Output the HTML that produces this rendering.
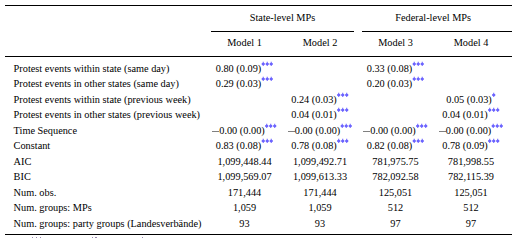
<!DOCTYPE html>
<html><head><meta charset="utf-8">
<style>
html,body{margin:0;padding:0;background:#fff;}
#pg{position:relative;width:529px;height:238px;overflow:hidden;background:#fff;
 font-family:"Liberation Serif",serif;font-size:10.3px;color:#000;}
.r{position:absolute;height:1px;background:#000;}
.t{position:absolute;white-space:nowrap;line-height:12px;height:12px;}
.l{left:13.6px;}
.c{width:100px;text-align:center;}
.c1{left:194.5px;}
.c2{left:270px;}
.c3{left:345.5px;}
.c4{left:421px;}
.fm{position:absolute;top:237px;width:1.5px;height:1px;background:#9a88b0}
.mn{display:inline-block;width:7px;height:1px;margin-bottom:2px;background:#808080;vertical-align:baseline}
.s{display:inline-block;height:5px;vertical-align:top;margin-top:-1px}
</style></head><body><div id="pg">
<div class="r" style="left:5px;top:5px;width:507px"></div>
<div class="r" style="left:211px;top:31px;width:143px"></div>
<div class="r" style="left:362px;top:31px;width:150px"></div>
<div class="r" style="left:5px;top:56px;width:507px"></div>
<div class="r" style="left:5px;top:234px;width:507px"></div>

<div class="t c" style="left:232.5px;top:12px">State-level MPs</div>
<div class="t c" style="left:383.2px;top:12px">Federal-level MPs</div>

<div class="t c c1" style="top:37px">Model 1</div>
<div class="t c c2" style="top:37px">Model 2</div>
<div class="t c c3" style="top:37px">Model 3</div>
<div class="t c c4" style="top:37px">Model 4</div>

<div class="t l" style="top:63px">Protest events within state (same day)</div>
<div class="t c c1" style="top:63px">0.80 (0.09)<span class="s" style="width:12px"></span></div>
<div class="t c c3" style="top:63px">0.33 (0.08)<span class="s" style="width:12px"></span></div>

<div class="t l" style="top:78px">Protest events in other states (same day)</div>
<div class="t c c1" style="top:78px">0.29 (0.03)<span class="s" style="width:12px"></span></div>
<div class="t c c3" style="top:78px">0.20 (0.03)<span class="s" style="width:12px"></span></div>

<div class="t l" style="top:94px">Protest events within state (previous week)</div>
<div class="t c c2" style="top:94px">0.24 (0.03)<span class="s" style="width:12px"></span></div>
<div class="t c c4" style="top:94px">0.05 (0.03)<span class="s" style="width:4px"></span></div>

<div class="t l" style="top:109px">Protest events in other states (previous week)</div>
<div class="t c c2" style="top:109px">0.04 (0.01)<span class="s" style="width:12px"></span></div>
<div class="t c c4" style="top:109px">0.04 (0.01)<span class="s" style="width:12px"></span></div>

<div class="t l" style="top:125px">Time Sequence</div>
<div class="t c c1" style="top:125px"><span class="mn"></span>0.00 (0.00)<span class="s" style="width:12px"></span></div>
<div class="t c c2" style="top:125px"><span class="mn"></span>0.00 (0.00)<span class="s" style="width:12px"></span></div>
<div class="t c c3" style="top:125px"><span class="mn"></span>0.00 (0.00)<span class="s" style="width:12px"></span></div>
<div class="t c c4" style="top:125px"><span class="mn"></span>0.00 (0.00)<span class="s" style="width:12px"></span></div>

<div class="t l" style="top:140px">Constant</div>
<div class="t c c1" style="top:140px">0.83 (0.08)<span class="s" style="width:12px"></span></div>
<div class="t c c2" style="top:140px">0.78 (0.08)<span class="s" style="width:12px"></span></div>
<div class="t c c3" style="top:140px">0.82 (0.08)<span class="s" style="width:12px"></span></div>
<div class="t c c4" style="top:140px">0.78 (0.09)<span class="s" style="width:12px"></span></div>

<div class="t l" style="top:156px">AIC</div>
<div class="t c c1" style="top:156px">1,099,448.44</div>
<div class="t c c2" style="top:156px">1,099,492.71</div>
<div class="t c c3" style="top:156px">781,975.75</div>
<div class="t c c4" style="top:156px">781,998.55</div>

<div class="t l" style="top:171px">BIC</div>
<div class="t c c1" style="top:171px">1,099,569.07</div>
<div class="t c c2" style="top:171px">1,099,613.33</div>
<div class="t c c3" style="top:171px">782,092.58</div>
<div class="t c c4" style="top:171px">782,115.39</div>

<div class="t l" style="top:187px">Num. obs.</div>
<div class="t c c1" style="top:187px">171,444</div>
<div class="t c c2" style="top:187px">171,444</div>
<div class="t c c3" style="top:187px">125,051</div>
<div class="t c c4" style="top:187px">125,051</div>

<div class="t l" style="top:202px">Num. groups: MPs</div>
<div class="t c c1" style="top:202px">1,059</div>
<div class="t c c2" style="top:202px">1,059</div>
<div class="t c c3" style="top:202px">512</div>
<div class="t c c4" style="top:202px">512</div>

<div class="t l" style="top:218px">Num. groups: party groups (Landesverbände)</div>
<div class="t c c1" style="top:218px">93</div>
<div class="t c c2" style="top:218px">93</div>
<div class="t c c3" style="top:218px">97</div>
<div class="t c c4" style="top:218px">97</div>

<div class="fm" style="left:31.5px"></div><div class="fm" style="left:35.5px"></div><div class="fm" style="left:39.6px"></div><div class="fm" style="left:91.5px"></div><div class="fm" style="left:95.3px"></div><div class="fm" style="left:141.8px"></div>
<svg id="ov" width="529" height="238" style="position:absolute;left:0;top:0" viewBox="0 0 529 238"><path fill="#6c64ff" d="M262.68 61.80h1.10v1.10h0.95v2.00h-0.95v1.10h-1.10v-1.10h-0.95v-2.00h0.95zM266.68 61.80h1.10v1.10h0.95v2.00h-0.95v1.10h-1.10v-1.10h-0.95v-2.00h0.95zM270.68 61.80h1.10v1.10h0.95v2.00h-0.95v1.10h-1.10v-1.10h-0.95v-2.00h0.95zM413.68 61.80h1.10v1.10h0.95v2.00h-0.95v1.10h-1.10v-1.10h-0.95v-2.00h0.95zM417.68 61.80h1.10v1.10h0.95v2.00h-0.95v1.10h-1.10v-1.10h-0.95v-2.00h0.95zM421.68 61.80h1.10v1.10h0.95v2.00h-0.95v1.10h-1.10v-1.10h-0.95v-2.00h0.95zM262.68 76.80h1.10v1.10h0.95v2.00h-0.95v1.10h-1.10v-1.10h-0.95v-2.00h0.95zM266.68 76.80h1.10v1.10h0.95v2.00h-0.95v1.10h-1.10v-1.10h-0.95v-2.00h0.95zM270.68 76.80h1.10v1.10h0.95v2.00h-0.95v1.10h-1.10v-1.10h-0.95v-2.00h0.95zM413.68 76.80h1.10v1.10h0.95v2.00h-0.95v1.10h-1.10v-1.10h-0.95v-2.00h0.95zM417.68 76.80h1.10v1.10h0.95v2.00h-0.95v1.10h-1.10v-1.10h-0.95v-2.00h0.95zM421.68 76.80h1.10v1.10h0.95v2.00h-0.95v1.10h-1.10v-1.10h-0.95v-2.00h0.95zM338.18 92.80h1.10v1.10h0.95v2.00h-0.95v1.10h-1.10v-1.10h-0.95v-2.00h0.95zM342.18 92.80h1.10v1.10h0.95v2.00h-0.95v1.10h-1.10v-1.10h-0.95v-2.00h0.95zM346.18 92.80h1.10v1.10h0.95v2.00h-0.95v1.10h-1.10v-1.10h-0.95v-2.00h0.95zM493.18 92.80h1.10v1.10h0.95v2.00h-0.95v1.10h-1.10v-1.10h-0.95v-2.00h0.95zM338.18 107.80h1.10v1.10h0.95v2.00h-0.95v1.10h-1.10v-1.10h-0.95v-2.00h0.95zM342.18 107.80h1.10v1.10h0.95v2.00h-0.95v1.10h-1.10v-1.10h-0.95v-2.00h0.95zM346.18 107.80h1.10v1.10h0.95v2.00h-0.95v1.10h-1.10v-1.10h-0.95v-2.00h0.95zM489.18 107.80h1.10v1.10h0.95v2.00h-0.95v1.10h-1.10v-1.10h-0.95v-2.00h0.95zM493.18 107.80h1.10v1.10h0.95v2.00h-0.95v1.10h-1.10v-1.10h-0.95v-2.00h0.95zM497.18 107.80h1.10v1.10h0.95v2.00h-0.95v1.10h-1.10v-1.10h-0.95v-2.00h0.95zM266.18 123.80h1.10v1.10h0.95v2.00h-0.95v1.10h-1.10v-1.10h-0.95v-2.00h0.95zM270.18 123.80h1.10v1.10h0.95v2.00h-0.95v1.10h-1.10v-1.10h-0.95v-2.00h0.95zM274.18 123.80h1.10v1.10h0.95v2.00h-0.95v1.10h-1.10v-1.10h-0.95v-2.00h0.95zM341.68 123.80h1.10v1.10h0.95v2.00h-0.95v1.10h-1.10v-1.10h-0.95v-2.00h0.95zM345.68 123.80h1.10v1.10h0.95v2.00h-0.95v1.10h-1.10v-1.10h-0.95v-2.00h0.95zM349.68 123.80h1.10v1.10h0.95v2.00h-0.95v1.10h-1.10v-1.10h-0.95v-2.00h0.95zM417.18 123.80h1.10v1.10h0.95v2.00h-0.95v1.10h-1.10v-1.10h-0.95v-2.00h0.95zM421.18 123.80h1.10v1.10h0.95v2.00h-0.95v1.10h-1.10v-1.10h-0.95v-2.00h0.95zM425.18 123.80h1.10v1.10h0.95v2.00h-0.95v1.10h-1.10v-1.10h-0.95v-2.00h0.95zM492.68 123.80h1.10v1.10h0.95v2.00h-0.95v1.10h-1.10v-1.10h-0.95v-2.00h0.95zM496.68 123.80h1.10v1.10h0.95v2.00h-0.95v1.10h-1.10v-1.10h-0.95v-2.00h0.95zM500.68 123.80h1.10v1.10h0.95v2.00h-0.95v1.10h-1.10v-1.10h-0.95v-2.00h0.95zM262.68 138.80h1.10v1.10h0.95v2.00h-0.95v1.10h-1.10v-1.10h-0.95v-2.00h0.95zM266.68 138.80h1.10v1.10h0.95v2.00h-0.95v1.10h-1.10v-1.10h-0.95v-2.00h0.95zM270.68 138.80h1.10v1.10h0.95v2.00h-0.95v1.10h-1.10v-1.10h-0.95v-2.00h0.95zM338.18 138.80h1.10v1.10h0.95v2.00h-0.95v1.10h-1.10v-1.10h-0.95v-2.00h0.95zM342.18 138.80h1.10v1.10h0.95v2.00h-0.95v1.10h-1.10v-1.10h-0.95v-2.00h0.95zM346.18 138.80h1.10v1.10h0.95v2.00h-0.95v1.10h-1.10v-1.10h-0.95v-2.00h0.95zM413.68 138.80h1.10v1.10h0.95v2.00h-0.95v1.10h-1.10v-1.10h-0.95v-2.00h0.95zM417.68 138.80h1.10v1.10h0.95v2.00h-0.95v1.10h-1.10v-1.10h-0.95v-2.00h0.95zM421.68 138.80h1.10v1.10h0.95v2.00h-0.95v1.10h-1.10v-1.10h-0.95v-2.00h0.95zM489.18 138.80h1.10v1.10h0.95v2.00h-0.95v1.10h-1.10v-1.10h-0.95v-2.00h0.95zM493.18 138.80h1.10v1.10h0.95v2.00h-0.95v1.10h-1.10v-1.10h-0.95v-2.00h0.95zM497.18 138.80h1.10v1.10h0.95v2.00h-0.95v1.10h-1.10v-1.10h-0.95v-2.00h0.95z"/></svg>
</div></body></html>
